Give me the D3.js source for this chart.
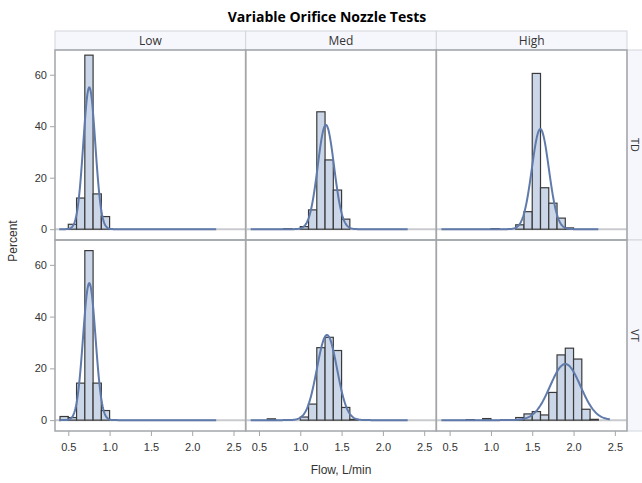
<!DOCTYPE html>
<html>
<head>
<meta charset="utf-8">
<script src="https://cdn.jsdelivr.net/npm/d3@7"></script>
<style>
  body { margin: 0; background: #fff; }
  svg { display: block; }
</style>
</head>
<body>
<svg id="chart" width="642" height="483"></svg>
<script>
// panels: columns x rows
const columns = ["Low", "Med", "High"];
const rows = ["TD", "VT"];
const binWidth = 0.1;
const xTicks = [0.5, 1.0, 1.5, 2.0, 2.5];
const yTicks = [0, 20, 40, 60];

// histogram bins: left edge of each bin and percent, one list per panel (row-major)
const binStarts = [
  [0.5, 0.6, 0.7, 0.8, 0.9],
  [0.8, 1.0, 1.1, 1.2, 1.3, 1.4, 1.5],
  [1.0, 1.3, 1.4, 1.5, 1.6, 1.7, 1.8, 1.9],
  [0.4, 0.5, 0.6, 0.7, 0.8, 0.9],
  [0.6, 1.0, 1.1, 1.2, 1.3, 1.4, 1.5, 1.6],
  [0.7, 0.9, 1.3, 1.4, 1.5, 1.6, 1.7, 1.8, 1.9, 2.0, 2.1, 2.2],
];
const binPercents = [
  [1.9, 12.1, 67.6, 13.7, 4.9],
  [0.2, 1.0, 7.5, 45.6, 26.9, 15.2, 3.9],
  [0.2, 1.7, 6.8, 60.5, 16.1, 10.1, 4.3, 0.5],
  [1.4, 1.0, 14.3, 65.5, 14.3, 3.7],
  [0.5, 1.2, 6.2, 28.0, 32.0, 26.9, 4.9, 0.3],
  [0.2, 0.6, 1.0, 2.4, 3.3, 2.0, 10.7, 25.2, 27.8, 23.6, 4.2, 0.3],
];

// fitted normal curves (mean, std dev) and the x span each curve covers
const fitMeans = [0.754, 1.31, 1.598, 0.754, 1.323, 1.90];
const fitSds = [0.0724, 0.0985, 0.1026, 0.0754, 0.1213, 0.184];
const curveFrom = [0.39, 0.40, 0.40, 0.39, 0.40, 0.40];
const curveTo = [2.29, 2.30, 2.30, 2.29, 2.30, 2.44];

const svg = d3.select("#chart");
const plotLeft = 55, plotRight = 627, plotTop = 50, plotBottom = 431;
const colW = (plotRight - plotLeft) / columns.length;
const rowTops = [plotTop, 240];
const rowHs = [190, plotBottom - 240];

const font = "'Liberation Sans', Arial, sans-serif";
const headFont = "'Open Sans', 'Noto Sans', sans-serif";

// title
svg.append("text")
  .attr("x", 327).attr("y", 22)
  .attr("text-anchor", "middle")
  .attr("font-family", headFont)
  .attr("font-weight", "700")
  .attr("font-size", "14px")
  .attr("fill", "#000")
  .text("Variable Orifice Nozzle Tests");

// column headers
columns.forEach((c, i) => {
  svg.append("rect")
    .attr("x", plotLeft + i * colW).attr("y", 31)
    .attr("width", colW).attr("height", plotTop - 31)
    .attr("fill", "#f6f7fc").attr("stroke", "#d3d6dc");
  svg.append("text")
    .attr("x", plotLeft + i * colW + colW / 2).attr("y", 45)
    .attr("text-anchor", "middle")
    .attr("font-family", headFont).attr("font-size", "12px")
    .attr("fill", "#333")
    .text(c);
});

// row headers on the right
rows.forEach((r, j) => {
  svg.append("rect")
    .attr("x", plotRight).attr("y", rowTops[j])
    .attr("width", 20).attr("height", rowHs[j])
    .attr("fill", "#f6f7fc").attr("stroke", "#d3d6dc");
  svg.append("text")
    .attr("transform", `translate(${plotRight + 4},${rowTops[j] + rowHs[j] / 2}) rotate(90)`)
    .attr("text-anchor", "middle")
    .attr("font-family", headFont).attr("font-size", "11px")
    .attr("fill", "#333")
    .text(r);
});

const x = d3.scaleLinear().domain([0.339, 2.647]);
const normal = (v, m, s) => 100 * binWidth * Math.exp(-0.5 * ((v - m) / s) ** 2) / (s * Math.sqrt(2 * Math.PI));

rows.forEach((r, j) => {
  const y = d3.scaleLinear().domain([-4.2, 69.6]).range([rowTops[j] + rowHs[j], rowTops[j]]);
  columns.forEach((c, i) => {
    const k = j * columns.length + i;
    const x0 = plotLeft + i * colW;
    const xs = x.copy().range([x0, x0 + colW]);
    const g = svg.append("g");

    // zero reference line
    g.append("line")
      .attr("x1", x0).attr("x2", x0 + colW)
      .attr("y1", y(0)).attr("y2", y(0))
      .attr("stroke", "#c9cbcf").attr("stroke-width", 2);

    const bins = binStarts[k].map((s, n) => ({ s, p: binPercents[k][n] }));
    g.selectAll("rect.bar")
      .data(bins)
      .join("rect")
      .attr("class", "bar")
      .attr("x", (d) => xs(d.s))
      .attr("width", (d) => xs(d.s + binWidth) - xs(d.s))
      .attr("y", (d) => y(d.p))
      .attr("height", (d) => y(0) - y(d.p))
      .attr("fill", "#cbd7e8")
      .attr("stroke", "#3a3a3a")
      .attr("stroke-width", 1.2);

    const pts = d3.range(0, 301).map((n) => {
      const v = curveFrom[k] + (curveTo[k] - curveFrom[k]) * n / 300;
      return [v, normal(v, fitMeans[k], fitSds[k])];
    });
    g.append("path")
      .datum(pts)
      .attr("d", d3.line().x((d) => xs(d[0])).y((d) => y(d[1])))
      .attr("fill", "none")
      .attr("stroke", "#5f7aab")
      .attr("stroke-width", 2);

    // panel frame
    g.append("rect")
      .attr("x", x0).attr("y", rowTops[j])
      .attr("width", colW).attr("height", rowHs[j])
      .attr("fill", "none").attr("stroke", "#a3a6aa").attr("stroke-width", 1.5);

    // x axis under bottom row
    if (j === rows.length - 1) {
      const ax = svg.append("g")
        .attr("transform", `translate(0,${plotBottom})`)
        .call(d3.axisBottom(xs).tickValues(xTicks).tickFormat(d3.format(".1f")).tickSize(5).tickSizeOuter(0));
      ax.select(".domain").remove();
      ax.selectAll("line").attr("stroke", "#a3a6aa");
      ax.selectAll("text").attr("font-family", font).attr("font-size", "11px").attr("fill", "#333").attr("dy", "1.1em");
    }
  });

  // y axis on left
  const ay = svg.append("g")
    .attr("transform", `translate(${plotLeft},0)`)
    .call(d3.axisLeft(y).tickValues(yTicks).tickSize(5).tickSizeOuter(0));
  ay.select(".domain").remove();
  ay.selectAll("line").attr("stroke", "#a3a6aa");
  ay.selectAll("text").attr("font-family", font).attr("font-size", "11px").attr("fill", "#333");
});

// axis labels
svg.append("text")
  .attr("transform", `translate(17,241) rotate(-90)`)
  .attr("text-anchor", "middle")
  .attr("font-family", font).attr("font-size", "12px").attr("fill", "#333")
  .text("Percent");
svg.append("text")
  .attr("x", 341).attr("y", 474)
  .attr("text-anchor", "middle")
  .attr("font-family", font).attr("font-size", "12px").attr("fill", "#333")
  .text("Flow, L/min");
</script>
</body>
</html>
